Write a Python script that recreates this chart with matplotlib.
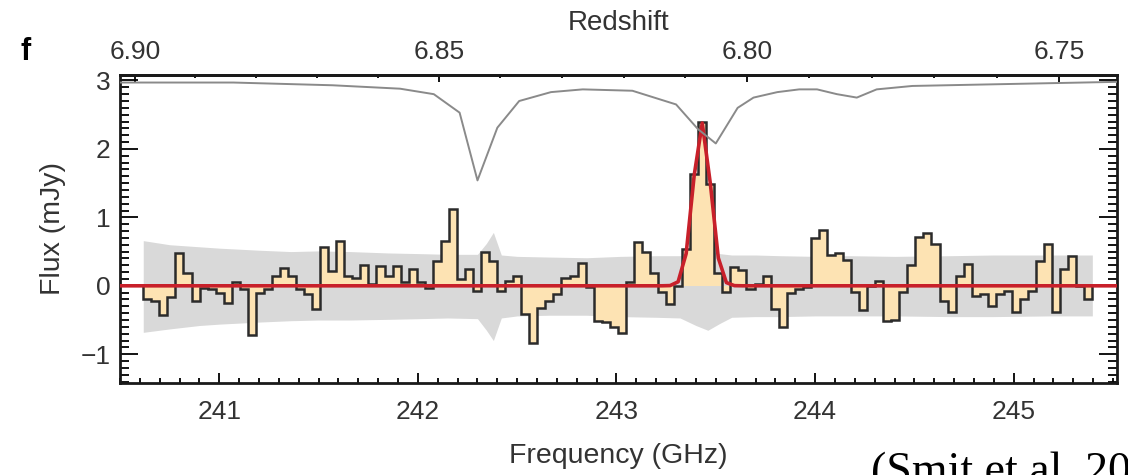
import numpy as np
import matplotlib
matplotlib.use('Agg')
import matplotlib.pyplot as plt
from matplotlib.ticker import MultipleLocator, FixedLocator, FormatStrFormatter

plt.rcParams['font.family'] = ['Liberation Sans', 'DejaVu Sans']
plt.rcParams['axes.unicode_minus'] = True

# -----------------------------------------------------------------------------
# Spectrum: flux per channel (mJy), channels start at 240.617 GHz, 40.5 MHz wide
chan_start = 240.617
chan_width = 0.0405
flux = [
    -0.20, -0.22, -0.42, -0.16, 0.48, 0.19, -0.22, -0.03, -0.05, -0.10,
    -0.25, 0.06, -0.05, -0.72, -0.10, -0.05, 0.14, 0.26, 0.15, -0.05,
    -0.12, -0.34, 0.56, 0.22, 0.66, 0.15, 0.12, 0.30, 0.02, 0.29,
    0.15, 0.29, 0.05, 0.24, 0.05, -0.03, 0.36, 0.66, 1.12, 0.10,
    0.24, -0.07, 0.49, 0.36, -0.07, 0.07, 0.15, -0.41, -0.83, -0.32,
    -0.22, -0.12, 0.12, 0.15, 0.34, -0.02, -0.51, -0.53, -0.60, -0.69,
    0.06, 0.64, 0.50, 0.18, -0.09, -0.26, -0.01, 0.54, 1.64, 2.40,
    1.49, 0.18, -0.09, 0.28, 0.23, -0.05, 0.03, 0.15, -0.34, -0.60,
    -0.11, -0.05, -0.02, 0.70, 0.82, 0.45, 0.48, 0.38, -0.09, -0.36,
    -0.01, 0.07, -0.51, -0.50, -0.09, 0.31, 0.71, 0.77, 0.61, -0.22,
    -0.38, 0.15, 0.32, -0.15, -0.12, -0.29, -0.12, -0.07, -0.39, -0.19,
    -0.07, 0.36, 0.61, -0.39, 0.24, 0.43, 0.00, -0.19,
]

# 1 sigma noise envelope
band_freq = [240.617, 240.75, 240.9, 241.0, 241.2, 241.36, 241.5, 241.66, 241.85, 242.01,
             242.15, 242.30, 242.345, 242.38, 242.42, 242.5, 242.66, 242.85, 243.02, 243.2,
             243.32, 243.4, 243.46, 243.52, 243.58, 243.7, 243.82, 244.0, 244.17, 244.4,
             244.68, 244.9, 245.18, 245.396]
band_hi = [0.66, 0.60, 0.57, 0.55, 0.52, 0.50, 0.51, 0.50, 0.48, 0.47,
           0.46, 0.46, 0.62, 0.78, 0.45, 0.43, 0.42, 0.41, 0.43, 0.44,
           0.44, 0.47, 0.50, 0.47, 0.45, 0.45, 0.44, 0.43, 0.44, 0.43,
           0.44, 0.45, 0.45, 0.45]
band_lo = [-0.68, -0.63, -0.58, -0.56, -0.53, -0.51, -0.50, -0.50, -0.49, -0.48,
           -0.47, -0.48, -0.65, -0.80, -0.47, -0.44, -0.43, -0.43, -0.45, -0.46,
           -0.47, -0.58, -0.65, -0.55, -0.46, -0.45, -0.45, -0.44, -0.44, -0.44,
           -0.45, -0.45, -0.44, -0.44]

# atmospheric transmission (scaled)
trans_freq = [240.50, 241.07, 241.57, 241.91, 242.08, 242.21, 242.30, 242.40, 242.51, 242.67,
              242.83, 243.08, 243.30, 243.41, 243.50, 243.61, 243.69, 243.81, 243.92, 244.01,
              244.11, 244.21, 244.31, 244.49, 244.83, 245.52]
trans = [2.97, 2.97, 2.93, 2.88, 2.80, 2.53, 1.54, 2.31, 2.70, 2.83,
         2.87, 2.85, 2.65, 2.29, 2.08, 2.60, 2.75, 2.83, 2.87, 2.87,
         2.80, 2.75, 2.87, 2.92, 2.94, 2.98]

# Gaussian line fit
fit_amp = 2.38
fit_center = 243.43
fit_sigma = 0.044

redshift_ticks = [6.90, 6.85, 6.80, 6.75]

CII_REST = 1900.537  # GHz
xlim = (240.50, 245.52)
ylim = (-1.42, 3.08)


def freq_to_z(f):
    return CII_REST / np.asarray(f, dtype=float) - 1


def z_to_freq(z):
    return CII_REST / (1 + np.asarray(z, dtype=float))


edges = chan_start + chan_width * np.arange(len(flux) + 1)
centers = 0.5 * (edges[:-1] + edges[1:])
model_freq = np.concatenate([[xlim[0]], centers, [xlim[1]]])
model = fit_amp * np.exp(-0.5 * ((model_freq - fit_center) / fit_sigma) ** 2)

# -----------------------------------------------------------------------------
fig = plt.figure(figsize=(11.28, 4.75), dpi=100)
ax = fig.add_axes([0.1064, 0.1937, 0.8838, 0.6484])

ax.fill_between(band_freq, band_lo, band_hi, color='#d9d9d9', lw=0, zorder=1)
ax.stairs(flux, edges, baseline=0, fill=True, color='#fde3b3', zorder=2)
ax.stairs(flux, edges, baseline=0, color='#2b2b2b', lw=1.8, zorder=3)
ax.plot(model_freq, model, color='#c8202a', lw=2.6, zorder=4)
ax.plot(trans_freq, trans, color='#8a8a8a', lw=1.4, zorder=5)

ax.set_xlim(*xlim)
ax.set_ylim(*ylim)

ax.xaxis.set_major_locator(MultipleLocator(1))
ax.xaxis.set_minor_locator(MultipleLocator(0.1))
ax.yaxis.set_major_locator(MultipleLocator(1))
ax.yaxis.set_minor_locator(MultipleLocator(0.1))

tick_col = '#333333'
ax.tick_params(axis='y', which='both', direction='in', left=True, right=True,
               labelsize=19, labelcolor=tick_col, pad=7, width=1.3)
ax.tick_params(axis='y', which='major', length=13)
ax.tick_params(axis='y', which='minor', length=6.5)
ax.tick_params(axis='x', which='both', direction='in', top=False,
               labelsize=19, labelcolor=tick_col, pad=12, width=1.3)
ax.tick_params(axis='x', which='major', length=7)
ax.tick_params(axis='x', which='minor', length=3.5)

for sp in ax.spines.values():
    sp.set_linewidth(2.0)
    sp.set_color('#1a1a1a')

ax.set_xlabel('Frequency (GHz)', fontsize=20.5, color=tick_col, labelpad=14)
ax.set_ylabel('Flux (mJy)', fontsize=20.5, color=tick_col, labelpad=10)

secax = ax.secondary_xaxis('top', functions=(freq_to_z, z_to_freq))
secax.xaxis.set_major_locator(FixedLocator(redshift_ticks))
secax.xaxis.set_minor_locator(MultipleLocator(0.01))
secax.xaxis.set_major_formatter(FormatStrFormatter('%.2f'))
secax.tick_params(axis='x', which='both', direction='in', labelsize=19,
                  labelcolor=tick_col, pad=8, width=1.3)
secax.tick_params(axis='x', which='major', length=5)
secax.tick_params(axis='x', which='minor', length=2.5)
secax.spines['top'].set_linewidth(2.0)
secax.set_xlabel('Redshift', fontsize=20, color=tick_col, labelpad=7)

fig.text(0.023, 0.890, 'f', fontsize=22, fontweight='bold', ha='center', va='center')
fig.text(0.772, -0.02, '(Smit et al. 2018)', fontsize=33, family='Liberation Serif',
         ha='left', va='baseline')

fig.savefig('out.png', dpi=100)
